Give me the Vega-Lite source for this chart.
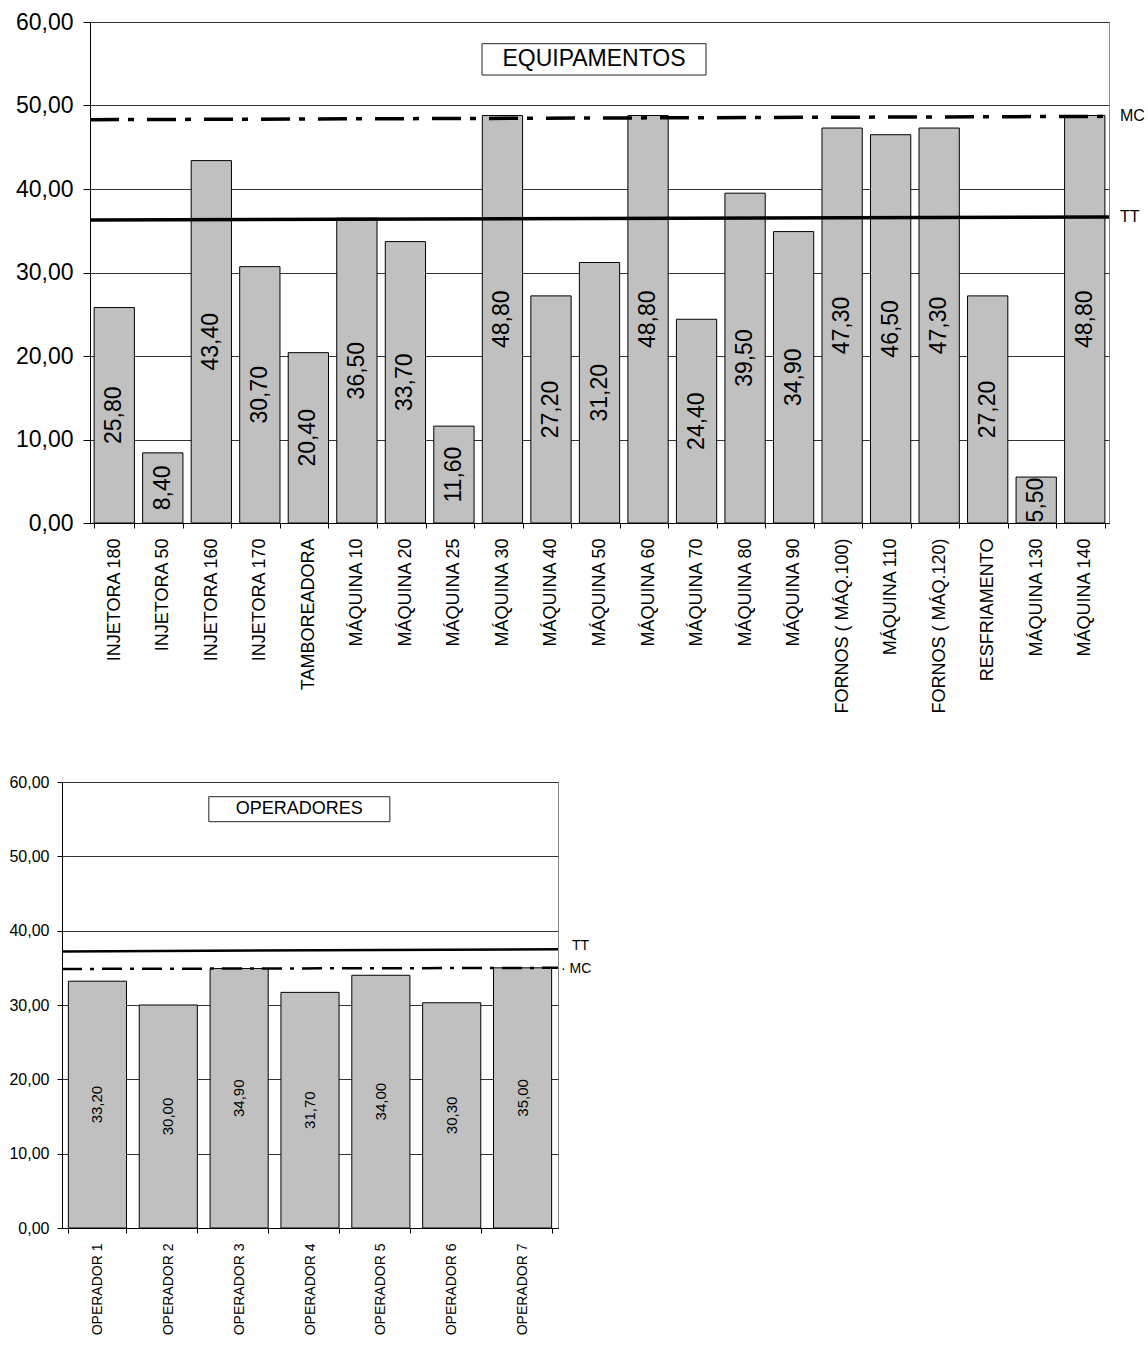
{
  "$schema": "https://vega.github.io/schema/vega-lite/v6.json",
  "background": "white",
  "padding": {"left": 5, "top": 10, "right": 2, "bottom": 2},
  "config": {
    "locale": {"number": {"decimal": ",", "thousands": ".", "grouping": [3], "currency": ["", ""]}},
    "font": "Liberation Sans",
    "view": {"stroke": "#888"},
    "axis": {"domainColor": "#000", "tickColor": "#000", "labelColor": "#000", "gridColor": "#333", "gridOpacity": 1, "domainWidth": 1, "tickWidth": 1}
  },
  "datasets": {
    "equip": [
      {"name": "INJETORA 180", "value": 25.8},
      {"name": "INJETORA 50", "value": 8.4},
      {"name": "INJETORA 160", "value": 43.4},
      {"name": "INJETORA 170", "value": 30.7},
      {"name": "TAMBOREADORA", "value": 20.4},
      {"name": "MÁQUINA 10", "value": 36.5},
      {"name": "MÁQUINA 20", "value": 33.7},
      {"name": "MÁQUINA 25", "value": 11.6},
      {"name": "MÁQUINA 30", "value": 48.8},
      {"name": "MÁQUINA 40", "value": 27.2},
      {"name": "MÁQUINA 50", "value": 31.2},
      {"name": "MÁQUINA 60", "value": 48.8},
      {"name": "MÁQUINA 70", "value": 24.4},
      {"name": "MÁQUINA 80", "value": 39.5},
      {"name": "MÁQUINA 90", "value": 34.9},
      {"name": "FORNOS ( MÁQ.100)", "value": 47.3},
      {"name": "MÁQUINA 110", "value": 46.5},
      {"name": "FORNOS ( MÁQ.120)", "value": 47.3},
      {"name": "RESFRIAMENTO", "value": 27.2},
      {"name": "MÁQUINA 130", "value": 5.5},
      {"name": "MÁQUINA 140", "value": 48.8}
    ],
    "oper": [
      {"name": "OPERADOR 1", "value": 33.2},
      {"name": "OPERADOR 2", "value": 30.0},
      {"name": "OPERADOR 3", "value": 34.9},
      {"name": "OPERADOR 4", "value": 31.7},
      {"name": "OPERADOR 5", "value": 34.0},
      {"name": "OPERADOR 6", "value": 30.3},
      {"name": "OPERADOR 7", "value": 35.0}
    ],
    "equipRef": [
      {"ref": "MC", "end": "left", "value": 48.3},
      {"ref": "MC", "end": "right", "value": 48.7},
      {"ref": "TT", "end": "left", "value": 36.3},
      {"ref": "TT", "end": "right", "value": 36.65}
    ],
    "operRef": [
      {"ref": "TT", "end": "left", "value": 37.2},
      {"ref": "TT", "end": "right", "value": 37.5},
      {"ref": "MC", "end": "left", "value": 34.85},
      {"ref": "MC", "end": "right", "value": 35.0}
    ],
    "titles": [
      {"chart": "top", "title": "EQUIPAMENTOS"},
      {"chart": "bottom", "title": "OPERADORES"}
    ]
  },
  "concat": [
    {
      "hconcat": [
        {
          "width": 1,
          "height": 501,
          "view": {"stroke": null},
          "data": {"values": []},
          "mark": {"type": "rule", "opacity": 0},
          "encoding": {}
        },
        {
          "width": 1019,
          "height": 501,
          "layer": [
            {
              "data": {"name": "equip"},
              "mark": {"type": "bar", "fill": "#c0c0c0", "stroke": "#000", "strokeWidth": 1},
              "encoding": {
                "x": {"field": "name", "type": "nominal", "sort": null,
                  "scale": {"paddingInner": 0.17, "paddingOuter": 0.085},
                  "axis": {"title": null, "labelAngle": -90, "labelAlign": "right", "labelBaseline": "middle", "labelFontSize": 18, "tickBand": "extent", "tickSize": 5, "labelPadding": 10, "grid": false, "minExtent": 200, "maxExtent": 200}},
                "y": {"field": "value", "type": "quantitative",
                  "scale": {"domain": [0, 60], "nice": false},
                  "axis": {"title": null, "format": ".2f", "values": [0, 10, 20, 30, 40, 50, 60], "labelFontSize": 23, "tickSize": 7, "labelPadding": 10, "grid": true}}
              }
            },
            {
              "data": {"name": "equip"},
              "mark": {"type": "text", "angle": 270, "fontSize": 23, "align": "center", "baseline": "middle", "color": "#000"},
              "encoding": {
                "x": {"field": "name", "type": "nominal", "sort": null,
                  "scale": {"paddingInner": 0.17, "paddingOuter": 0.085}, "axis": null},
                "y": {"field": "value", "type": "quantitative", "scale": {"domain": [0, 120], "nice": false}, "axis": null},
                "text": {"field": "value", "type": "quantitative", "format": ".2f"}
              }
            },
            {
              "data": {"name": "equipRef"},
              "transform": [{"filter": "datum.ref === 'TT'"}],
              "mark": {"type": "line", "color": "#000", "strokeWidth": 3.5},
              "encoding": {
                "x": {"field": "end", "type": "ordinal", "scale": {"type": "point", "padding": 0, "domain": ["left", "right"]}, "axis": null},
                "y": {"field": "value", "type": "quantitative", "scale": {"domain": [0, 60], "nice": false}, "axis": null}
              }
            },
            {
              "data": {"name": "equipRef"},
              "transform": [{"filter": "datum.ref === 'MC'"}],
              "mark": {"type": "line", "color": "#000", "strokeWidth": 3.5, "strokeDash": [29, 9, 6, 13]},
              "encoding": {
                "x": {"field": "end", "type": "ordinal", "scale": {"type": "point", "padding": 0, "domain": ["left", "right"]}, "axis": null},
                "y": {"field": "value", "type": "quantitative", "scale": {"domain": [0, 60], "nice": false}, "axis": null}
              }
            },
            {
              "data": {"name": "equipRef"},
              "transform": [{"filter": "datum.end === 'right'"}],
              "mark": {"type": "text", "align": "left", "baseline": "middle", "dx": 11, "fontSize": 16, "color": "#000"},
              "encoding": {
                "x": {"field": "end", "type": "ordinal", "scale": {"type": "point", "padding": 0, "domain": ["left", "right"]}, "axis": null},
                "y": {"field": "value", "type": "quantitative", "scale": {"domain": [0, 60], "nice": false}, "axis": null},
                "text": {"field": "ref"}
              }
            },
            {
              "data": {"name": "titles"},
              "transform": [{"filter": "datum.chart === 'top'"}],
              "mark": {"type": "rect", "fill": "white", "stroke": "#222", "strokeWidth": 1},
              "encoding": {
                "x": {"datum": 0.3847, "type": "quantitative", "scale": {"domain": [0, 1]}, "axis": null},
                "x2": {"datum": 0.6045},
                "y": {"datum": 53.65, "type": "quantitative", "scale": {"domain": [0, 60], "nice": false}, "axis": null},
                "y2": {"datum": 57.4}
              }
            },
            {
              "data": {"name": "titles"},
              "transform": [{"filter": "datum.chart === 'top'"}],
              "mark": {"type": "text", "align": "center", "baseline": "middle", "fontSize": 23, "color": "#000"},
              "encoding": {
                "x": {"datum": 0.4946, "type": "quantitative", "scale": {"domain": [0, 1]}, "axis": null},
                "y": {"datum": 55.55, "type": "quantitative", "scale": {"domain": [0, 60], "nice": false}, "axis": null},
                "text": {"field": "title"}
              }
            }
          ],
          "resolve": {"scale": {"x": "independent", "y": "independent"}}
        }
      ],
      "spacing": 27,
      "bounds": "flush"
    },
    {
      "width": 496,
      "height": 446,
      "layer": [
        {
          "data": {"name": "oper"},
          "mark": {"type": "bar", "fill": "#c0c0c0", "stroke": "#000", "strokeWidth": 1},
          "encoding": {
            "x": {"field": "name", "type": "nominal", "sort": null,
              "scale": {"paddingInner": 0.18, "paddingOuter": 0.09},
              "axis": {"title": null, "labelAngle": -90, "labelAlign": "right", "labelBaseline": "middle", "labelFontSize": 14, "tickBand": "extent", "tickSize": 5, "labelPadding": 10, "grid": false}},
            "y": {"field": "value", "type": "quantitative",
              "scale": {"domain": [0, 60], "nice": false},
              "axis": {"title": null, "format": ".2f", "values": [0, 10, 20, 30, 40, 50, 60], "labelFontSize": 16, "tickSize": 5, "labelPadding": 8, "grid": true, "minExtent": 56}}
          }
        },
        {
          "data": {"name": "oper"},
          "mark": {"type": "text", "angle": 270, "fontSize": 15, "align": "center", "baseline": "middle", "color": "#000"},
          "encoding": {
            "x": {"field": "name", "type": "nominal", "sort": null,
              "scale": {"paddingInner": 0.18, "paddingOuter": 0.09}, "axis": null},
            "y": {"field": "value", "type": "quantitative", "scale": {"domain": [0, 120], "nice": false}, "axis": null},
            "text": {"field": "value", "type": "quantitative", "format": ".2f"}
          }
        },
        {
          "data": {"name": "operRef"},
          "transform": [{"filter": "datum.ref === 'TT'"}],
          "mark": {"type": "line", "color": "#000", "strokeWidth": 2.5},
          "encoding": {
            "x": {"field": "end", "type": "ordinal", "scale": {"type": "point", "padding": 0, "domain": ["left", "right"]}, "axis": null},
            "y": {"field": "value", "type": "quantitative", "scale": {"domain": [0, 60], "nice": false}, "axis": null}
          }
        },
        {
          "data": {"name": "operRef"},
          "transform": [{"filter": "datum.ref === 'MC'"}],
          "mark": {"type": "line", "color": "#000", "strokeWidth": 2.5, "strokeDash": [20, 8, 4, 8]},
          "encoding": {
            "x": {"field": "end", "type": "ordinal", "scale": {"type": "point", "padding": 0, "domain": ["left", "right"]}, "axis": null},
            "y": {"field": "value", "type": "quantitative", "scale": {"domain": [0, 60], "nice": false}, "axis": null}
          }
        },
        {
          "data": {"name": "operRef"},
          "transform": [{"filter": "datum.end === 'right' && datum.ref === 'TT'"}],
          "mark": {"type": "text", "align": "left", "baseline": "middle", "dx": 14, "dy": -3, "fontSize": 14, "color": "#000"},
          "encoding": {
            "x": {"field": "end", "type": "ordinal", "scale": {"type": "point", "padding": 0, "domain": ["left", "right"]}, "axis": null},
            "y": {"field": "value", "type": "quantitative", "scale": {"domain": [0, 60], "nice": false}, "axis": null},
            "text": {"field": "ref"}
          }
        },
        {
          "data": {"name": "operRef"},
          "transform": [{"filter": "datum.end === 'right' && datum.ref === 'MC'"}],
          "mark": {"type": "text", "align": "left", "baseline": "middle", "dx": 3, "dy": 1, "fontSize": 14, "color": "#000"},
          "encoding": {
            "x": {"field": "end", "type": "ordinal", "scale": {"type": "point", "padding": 0, "domain": ["left", "right"]}, "axis": null},
            "y": {"field": "value", "type": "quantitative", "scale": {"domain": [0, 60], "nice": false}, "axis": null},
            "text": {"value": "· MC"}
          }
        },
        {
          "data": {"name": "titles"},
          "transform": [{"filter": "datum.chart === 'bottom'"}],
          "mark": {"type": "rect", "fill": "white", "stroke": "#222", "strokeWidth": 1},
          "encoding": {
            "x": {"datum": 0.296, "type": "quantitative", "scale": {"domain": [0, 1]}, "axis": null},
            "x2": {"datum": 0.661},
            "y": {"datum": 54.66, "type": "quantitative", "scale": {"domain": [0, 60], "nice": false}, "axis": null},
            "y2": {"datum": 58.02}
          }
        },
        {
          "data": {"name": "titles"},
          "transform": [{"filter": "datum.chart === 'bottom'"}],
          "mark": {"type": "text", "align": "center", "baseline": "middle", "fontSize": 18, "color": "#000"},
          "encoding": {
            "x": {"datum": 0.4785, "type": "quantitative", "scale": {"domain": [0, 1]}, "axis": null},
            "y": {"datum": 56.34, "type": "quantitative", "scale": {"domain": [0, 60], "nice": false}, "axis": null},
            "text": {"field": "title"}
          }
        }
      ],
      "resolve": {"scale": {"x": "independent", "y": "independent"}}
    }
  ],
  "columns": 1,
  "align": "none",
  "bounds": "full",
  "spacing": 49
}
